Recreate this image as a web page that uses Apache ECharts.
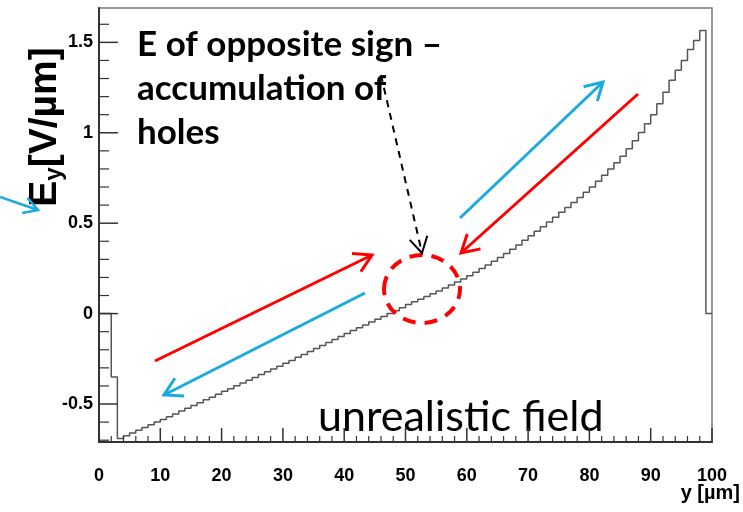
<!DOCTYPE html>
<html><head><meta charset="utf-8">
<script src="https://cdn.jsdelivr.net/npm/echarts@6/dist/echarts.min.js"></script>
<style>html,body{margin:0;padding:0;background:#fff}.c{position:absolute;left:0;top:0;width:743px;height:512px}</style>
</head><body><div id="c" class="c"></div><div id="g" class="c"></div>
<script>
// Histogram E_y per 1 µm bin, bins 0..99
const binValues = [
  0, 0, -0.35, -0.69, -0.675, -0.66, -0.645, -0.63, -0.615, -0.60,
  -0.585, -0.57, -0.555, -0.539, -0.524, -0.508, -0.493, -0.477, -0.462, -0.446,
  -0.43, -0.415, -0.399, -0.384, -0.368, -0.353, -0.337, -0.322, -0.306, -0.291,
  -0.275, -0.259, -0.242, -0.226, -0.209, -0.193, -0.176, -0.160, -0.143, -0.127,
  -0.110, -0.094, -0.078, -0.063, -0.047, -0.031, -0.016, 0.000, 0.016, 0.033,
  0.050, 0.065, 0.080, 0.095, 0.110, 0.125, 0.141, 0.158, 0.175, 0.192,
  0.210, 0.229, 0.249, 0.269, 0.289, 0.310, 0.333, 0.356, 0.380, 0.405,
  0.430, 0.455, 0.481, 0.507, 0.533, 0.560, 0.587, 0.614, 0.642, 0.671,
  0.700, 0.732, 0.765, 0.799, 0.834, 0.870, 0.912, 0.956, 1.002, 1.050,
  1.100, 1.160, 1.224, 1.290, 1.346, 1.400, 1.460, 1.510, 1.566, 0
];
const binWidth = 1;
const xMajorTicks = [0, 10, 20, 30, 40, 50, 60, 70, 80, 90, 100];
const xMinorTicks = [2, 4, 6, 8, 12, 14, 16, 18, 22, 24, 26, 28, 32, 34, 36, 38, 42, 44, 46, 48,
  52, 54, 56, 58, 62, 64, 66, 68, 72, 74, 76, 78, 82, 84, 86, 88, 92, 94, 96, 98];
const yMajorTicks = [-0.5, 0, 0.5, 1, 1.5];
const yMinorTicks = [-0.7, -0.6, -0.4, -0.3, -0.2, -0.1, 0.1, 0.2, 0.3, 0.4, 0.6, 0.7, 0.8, 0.9, 1.1, 1.2, 1.3, 1.4, 1.6];
const X_MIN = 0, X_MAX = 100, Y_MIN = -0.71, Y_MAX = 1.69;
const xTitle = 'y [\u00b5m]';
const annotationText = 'E of opposite sign \u2013\naccumulation of\nholes';
const noteText = 'unrealistic field';

const data = binValues.map((v, i) => [i * binWidth, v]);
data.push([binValues.length * binWidth, binValues[binValues.length - 1]]);

const axisCol = '#333';
const RED = '#ff0000', BLUE = '#1ba9e1';
function arrow(x1, y1, x2, y2, color, width, head, dash) {
  const a = Math.atan2(y1 - y2, x1 - x2), s = Math.PI / 6;
  const p1 = [x2 + head * Math.cos(a + s), y2 + head * Math.sin(a + s)];
  const p2 = [x2 + head * Math.cos(a - s), y2 + head * Math.sin(a - s)];
  return [
    {type: 'line', shape: {x1, y1, x2, y2}, style: {stroke: color, lineWidth: width, lineDash: dash || null}, z: 10},
    {type: 'polyline', shape: {points: [p1, [x2, y2], p2]}, style: {stroke: color, lineWidth: width, fill: null}, z: 10}
  ];
}

const chart = echarts.init(document.getElementById('c'));
chart.setOption({
  animation: false,
  grid: {left: 99, top: 8, width: 613, height: 434, show: true, borderColor: '#777', borderWidth: 1.5},
  xAxis: [{
    type: 'value', min: X_MIN, max: X_MAX, interval: 10,
    axisLine: {show: true, onZero: false, lineStyle: {color: axisCol, width: 2}},
    axisTick: {show: false}, minorTick: {show: false},
    axisLabel: {fontSize: 18, fontWeight: 'bold', color: '#000', margin: 25, fontFamily: 'Liberation Sans'},
    splitLine: {show: false}
  }],
  yAxis: [{
    type: 'value', min: Y_MIN, max: Y_MAX,
    axisLine: {show: true, onZero: false, lineStyle: {color: axisCol, width: 2}},
    axisTick: {show: false},
    axisLabel: {customValues: yMajorTicks, fontSize: 18, fontWeight: 'bold', color: '#000', margin: 6, fontFamily: 'Liberation Sans'},
    splitLine: {show: false}
  }],
  series: [{
    type: 'line', step: 'end', data, showSymbol: false, symbol: 'none',
    lineStyle: {color: '#555', width: 1.5}, silent: true, z: 3
  }]
});

// axis ticks placed through the chart's own scales
const TICK_LEN = {x: [6, 14], y: [10, 19]};
function tickLine(p, dx, dy, major) {
  return {type: 'line', shape: {x1: p[0], y1: p[1], x2: p[0] + dx, y2: p[1] + dy},
    style: {stroke: axisCol, lineWidth: major ? 1.5 : 1.2}, z: 5};
}
const tickGraphics = [];
[[xMajorTicks, 1], [xMinorTicks, 0]].forEach(([arr, major]) => arr.forEach(v => {
  const p = chart.convertToPixel({gridIndex: 0}, [v, Y_MIN]);
  tickGraphics.push(tickLine(p, 0, -TICK_LEN.x[major], major));
}));
[[yMajorTicks, 1], [yMinorTicks, 0]].forEach(([arr, major]) => arr.forEach(v => {
  const p = chart.convertToPixel({gridIndex: 0}, [X_MIN, v]);
  tickGraphics.push(tickLine(p, TICK_LEN.y[major], 0, major));
}));

const overlay = echarts.init(document.getElementById('g'));
overlay.setOption({
  animation: false,
  graphic: [
    ...tickGraphics,
    {type: 'text', x: 45, y: 127, rotation: Math.PI / 2, style: {
      text: '{e|E}{s|y}{e|[V/\u00b5m]}', align: 'center', verticalAlign: 'middle',
      rich: {
        e: {fontSize: 39, fontWeight: 'bold', fontFamily: 'Liberation Sans', fill: '#000', lineHeight: 42},
        s: {fontSize: 24, fontWeight: 'bold', fontFamily: 'Liberation Sans', fill: '#000', lineHeight: 24, verticalAlign: 'bottom', padding: [16, 0, 0, 0]}
      }}},
    {type: 'text', right: 3, top: 483, style: {text: xTitle, fontSize: 20, fontWeight: 'bold', fontFamily: 'Liberation Sans', fill: '#000'}},
    {type: 'text', x: 137, y: 23, style: {text: annotationText, fontSize: 35, fontWeight: 'bold', fontFamily: 'Lato', fill: '#000', lineHeight: 44}},
    {type: 'text', x: 318, y: 417, style: {text: noteText, fontSize: 43, fontFamily: 'Lato', fill: '#000', verticalAlign: 'middle'}},
    {type: 'ellipse', shape: {cx: 422, cy: 289, rx: 38, ry: 34}, style: {fill: null, stroke: RED, lineWidth: 4, lineDash: [13, 9]}, z: 10},
    ...arrow(381, 75, 422, 253, '#000', 2, 18, [7, 6]),
    ...arrow(155, 361, 372, 255, RED, 3, 20),
    ...arrow(365, 293, 164, 395, BLUE, 3, 20),
    ...arrow(460, 218, 603, 82, BLUE, 3, 20),
    ...arrow(638, 94, 461, 253, RED, 3, 20),
    ...arrow(0, 197, 38, 210, BLUE, 2.5, 16)
  ]
});
</script></body></html>
